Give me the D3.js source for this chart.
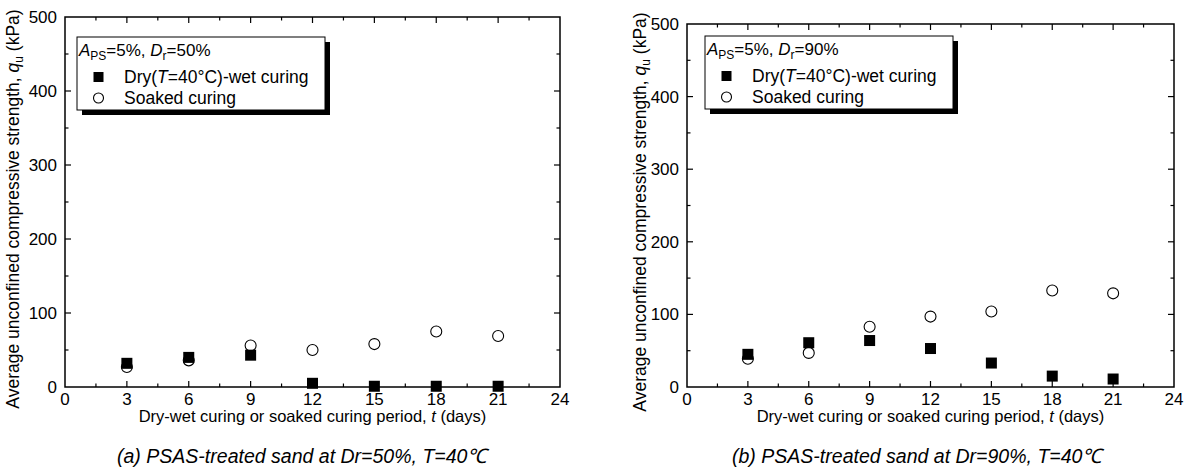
<!DOCTYPE html>
<html>
<head>
<meta charset="utf-8">
<script src="https://cdn.jsdelivr.net/npm/d3@7"></script>
<style>
  body { margin: 0; background: #fff; }
  svg text { font-family: "Liberation Sans", Arial, sans-serif; fill: #000; }
</style>
</head>
<body>
<svg id="chart" width="1192" height="473"></svg>
<script>
// curing period (days)
const days = [3, 6, 9, 12, 15, 18, 21];

// (a) Dr = 50%
const dryA = [32, 40, 43, 5, 1, 1, 1];
const soakA = [27, 36, 56, 50, 58, 75, 69];

// (b) Dr = 90%
const dryB = [45, 61, 64, 53, 33, 15, 11];
const soakB = [39, 47, 83, 97, 104, 133, 129];

const xTicks = [0, 3, 6, 9, 12, 15, 18, 21, 24];
const xMinor = [1.5, 4.5, 7.5, 10.5, 13.5, 16.5, 19.5, 22.5];
const yTicks = [0, 100, 200, 300, 400, 500];
const yMinor = [50, 150, 250, 350, 450];

const legendTitles = ["50%", "90%"];
const captions = [
  "(a)  PSAS-treated sand at Dr=50%, T=40\u2103",
  "(b)  PSAS-treated sand at Dr=90%, T=40\u2103"
];

const svg = d3.select("#chart");

function drawPanel(opt) {
  let x = d3.scaleLinear().domain([0, 24]).range([opt.left, opt.right]),
  y = d3.scaleLinear().domain([0, 500]).range([opt.bottom, opt.top]);

  let g = svg.append("g");

  // frame
  g.append("rect")
    .attr("x", opt.left)
    .attr("y", opt.top)
    .attr("width", opt.right - opt.left)
    .attr("height", opt.bottom - opt.top)
    .attr("fill", "none")
    .attr("stroke", "#000")
    .attr("stroke-width", 1.5);

  // inward ticks on all four sides
  function xTickLines(vals, len) {
    vals.forEach(function(v) {
      g.append("line").attr("x1", x(v)).attr("x2", x(v))
        .attr("y1", opt.bottom).attr("y2", opt.bottom - len)
        .attr("stroke", "#000").attr("stroke-width", 1.2);
      g.append("line").attr("x1", x(v)).attr("x2", x(v))
        .attr("y1", opt.top).attr("y2", opt.top + len)
        .attr("stroke", "#000").attr("stroke-width", 1.2);
    });
  }
  function yTickLines(vals, len) {
    vals.forEach(function(v) {
      g.append("line").attr("y1", y(v)).attr("y2", y(v))
        .attr("x1", opt.left).attr("x2", opt.left + len)
        .attr("stroke", "#000").attr("stroke-width", 1.2);
      g.append("line").attr("y1", y(v)).attr("y2", y(v))
        .attr("x1", opt.right).attr("x2", opt.right - len)
        .attr("stroke", "#000").attr("stroke-width", 1.2);
    });
  }
  xTickLines(xTicks.slice(1, -1), 6);
  xTickLines(xMinor, 3.5);
  yTickLines(yTicks.slice(1, -1), 6);
  yTickLines(yMinor, 3.5);

  // tick labels
  g.selectAll(".xl").data(xTicks).enter().append("text")
    .attr("x", d => x(d))
    .attr("y", opt.bottom + 18)
    .attr("text-anchor", "middle")
    .style("font-size", "17px")
    .text(d => d);

  g.selectAll(".yl").data(yTicks).enter().append("text")
    .attr("x", opt.left - 8)
    .attr("y", d => y(d) + 6)
    .attr("text-anchor", "end")
    .style("font-size", "17px")
    .text(d => d);

  // axis titles
  g.append("text")
    .attr("x", (opt.left + opt.right) / 2)
    .attr("y", opt.bottom + 35)
    .attr("text-anchor", "middle")
    .style("font-size", "16.5px")
    .call(function(t) {
      t.append("tspan").text("Dry-wet curing or soaked curing period, ");
      t.append("tspan").style("font-style", "italic").text("t");
      t.append("tspan").text(" (days)");
    });

  g.append("text")
    .attr("transform", "translate(" + opt.ytitleX + "," + opt.ytitleY + ") rotate(-90)")
    .attr("text-anchor", "middle")
    .style("font-size", "17.5px")
    .call(function(t) {
      t.append("tspan").text("Average unconfined compressive strength, ");
      t.append("tspan").style("font-style", "italic").text("q");
      t.append("tspan").attr("dy", 4).style("font-size", "12px").text("u");
      t.append("tspan").attr("dy", -4).text(" (kPa)");
    });

  // data points
  g.selectAll(".sq").data(opt.dry).enter().append("rect")
    .attr("x", (d, i) => x(days[i]) - 5.5)
    .attr("y", d => y(d) - 5.5)
    .attr("width", 11)
    .attr("height", 11)
    .attr("fill", "#000");

  g.selectAll(".ci").data(opt.soak).enter().append("circle")
    .attr("cx", (d, i) => x(days[i]))
    .attr("cy", d => y(d))
    .attr("r", 5.5)
    .attr("fill", "none")
    .attr("stroke", "#000")
    .attr("stroke-width", 1.1);

  // legend with drop shadow
  let lx = opt.legX, ly = opt.legY, lw = 248, lh = 73;
  g.append("rect").attr("x", lx + 5).attr("y", ly + 5)
    .attr("width", lw).attr("height", lh).attr("fill", "#000");
  g.append("rect").attr("x", lx).attr("y", ly)
    .attr("width", lw).attr("height", lh)
    .attr("fill", "#fff").attr("stroke", "#000").attr("stroke-width", 1);

  g.append("text")
    .attr("x", lx + 2)
    .attr("y", ly + 19)
    .style("font-size", "17px")
    .call(function(t) {
      t.append("tspan").style("font-style", "italic").text("A");
      t.append("tspan").attr("dy", 4).style("font-size", "12px").text("PS");
      t.append("tspan").attr("dy", -4).text("=5%, ");
      t.append("tspan").style("font-style", "italic").text("D");
      t.append("tspan").attr("dy", 4).style("font-size", "12px").text("r");
      t.append("tspan").attr("dy", -4).text("=" + opt.legTitle);
    });

  g.append("rect").attr("x", lx + 16.5).attr("y", ly + 40 - 5)
    .attr("width", 10).attr("height", 10).attr("fill", "#000");
  g.append("text")
    .attr("x", lx + 47)
    .attr("y", ly + 46)
    .style("font-size", "17.5px")
    .call(function(t) {
      t.append("tspan").text("Dry(");
      t.append("tspan").style("font-style", "italic").text("T");
      t.append("tspan").text("=40\u00B0C)-wet curing");
    });

  g.append("circle").attr("cx", lx + 21.5).attr("cy", ly + 61)
    .attr("r", 5).attr("fill", "none").attr("stroke", "#000").attr("stroke-width", 1.1);
  g.append("text")
    .attr("x", lx + 47)
    .attr("y", ly + 67)
    .style("font-size", "17.5px")
    .text("Soaked curing");

  // caption
  g.append("text")
    .attr("x", opt.capX)
    .attr("y", 463)
    .attr("text-anchor", "middle")
    .style("font-size", "20px")
    .style("font-style", "italic")
    .attr("textLength", 370)
    .attr("lengthAdjust", "spacingAndGlyphs")
    .text(opt.caption);
}

drawPanel({
  left: 65, right: 560, top: 17, bottom: 387,
  dry: dryA, soak: soakA,
  legX: 77, legY: 37, legTitle: legendTitles[0],
  ytitleX: 19, ytitleY: 209,
  capX: 302, caption: captions[0]
});

drawPanel({
  left: 687, right: 1174, top: 24, bottom: 387,
  dry: dryB, soak: soakB,
  legX: 705, legY: 36, legTitle: legendTitles[1],
  ytitleX: 646, ytitleY: 212,
  capX: 917, caption: captions[1]
});
</script>
</body>
</html>
